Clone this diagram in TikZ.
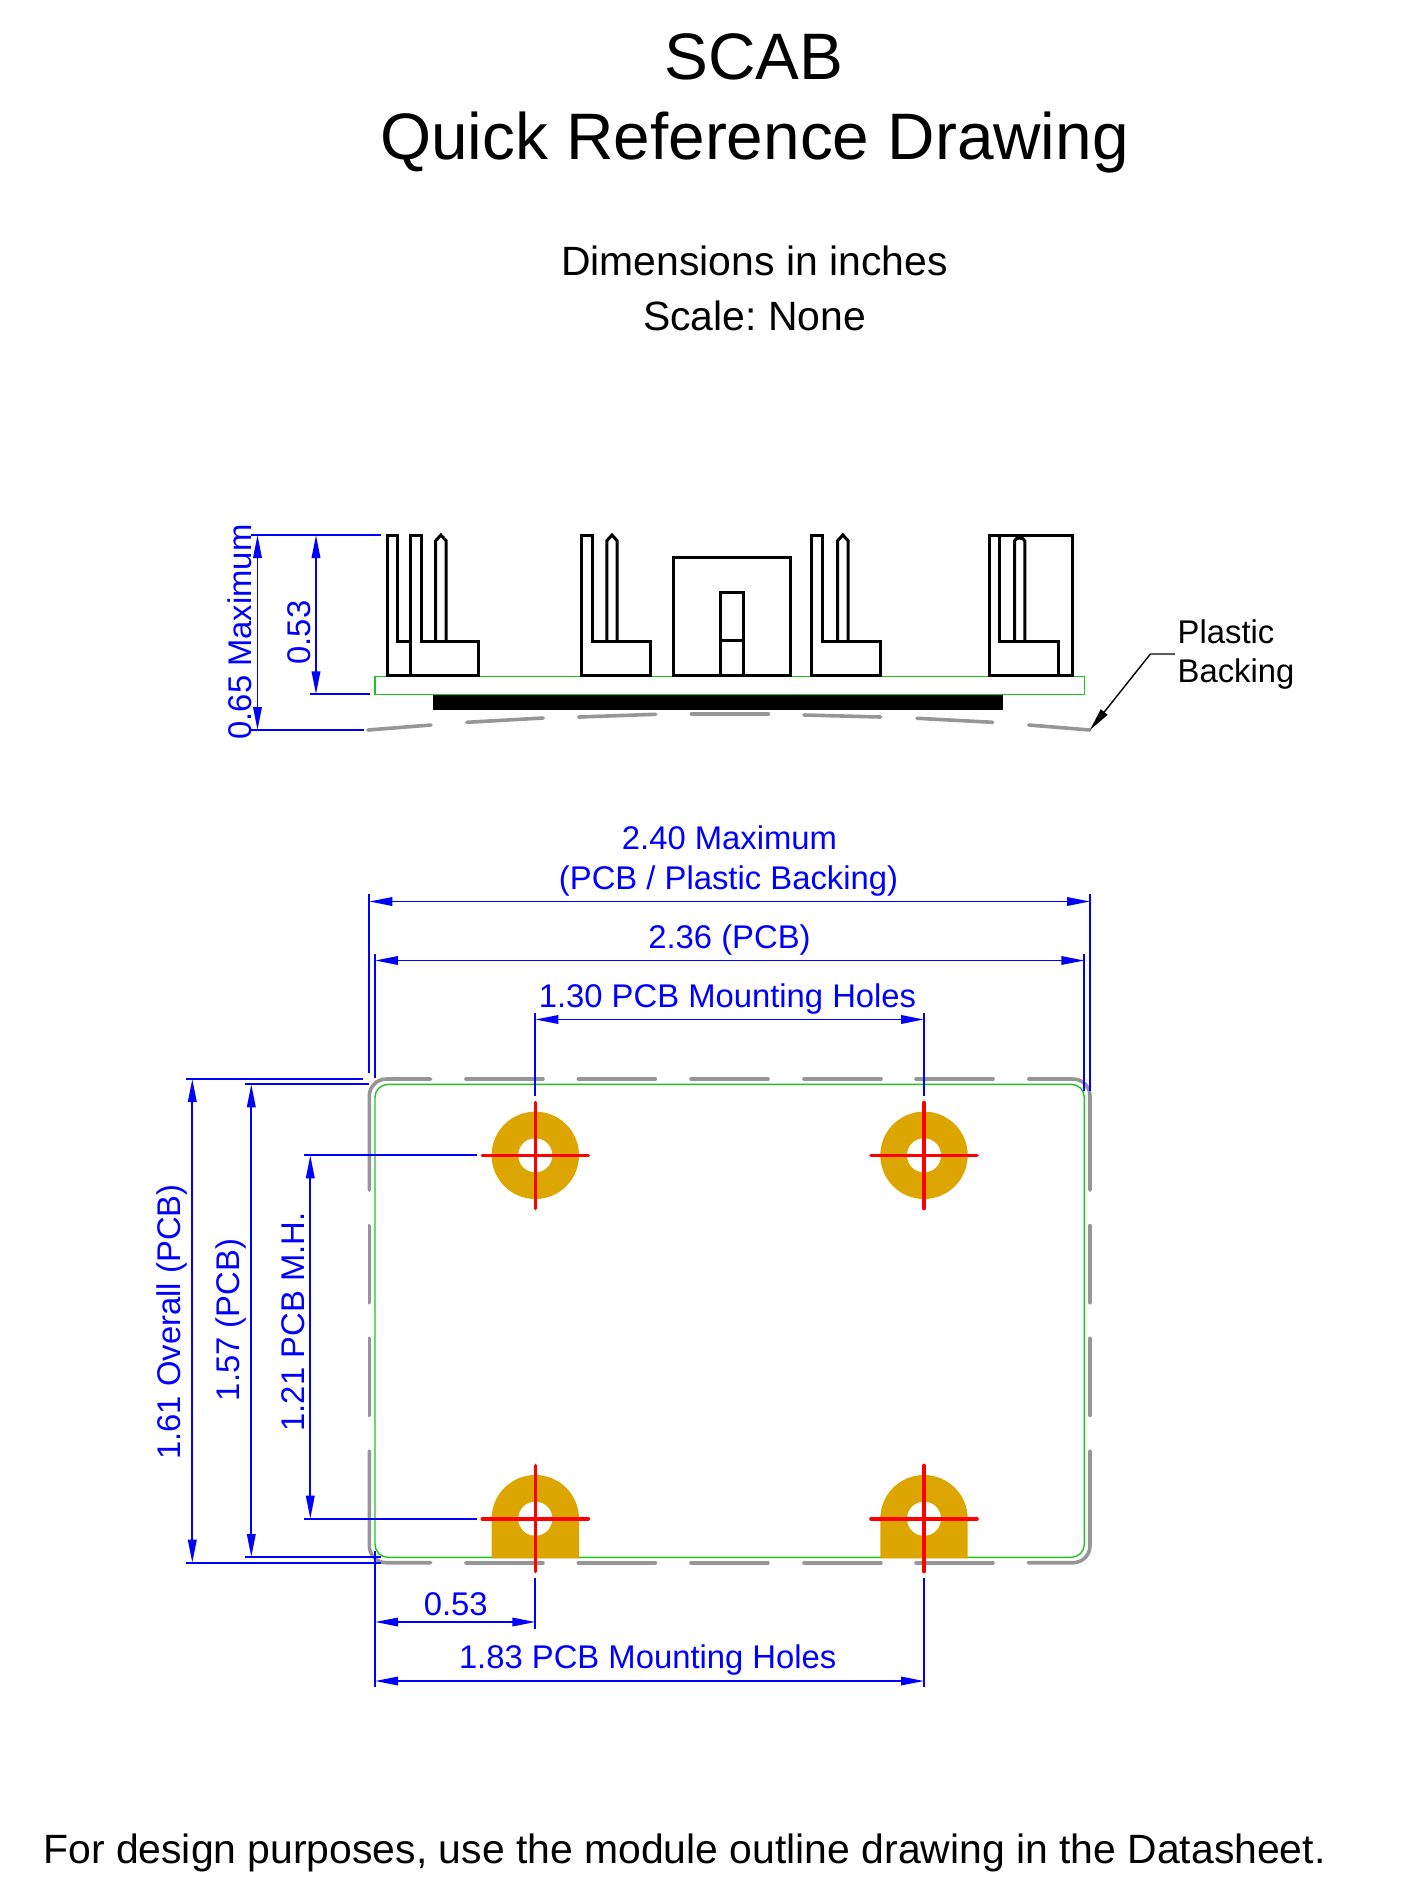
\documentclass[tikz,border=0pt]{standalone}
\usepackage{fontspec}
\setmainfont{Liberation Sans}
\usetikzlibrary{arrows.meta}
\definecolor{padgold}{RGB}{220,165,0}
\definecolor{pcbgreen}{RGB}{30,195,30}
\definecolor{backgray}{RGB}{150,150,150}
\tikzset{
  dimtip/.tip={Triangle[length=23pt,width=8.5pt]},
  dimline/.style={blue,line width=1.8pt,dimtip-dimtip},
  extline/.style={blue,line width=1.8pt},
  backing/.style={backgray,line width=3.6pt,line cap=round},
  pcb/.style={pcbgreen,line width=1.4pt},
  part/.style={black,line width=3pt,line join=miter},
  cross/.style={red,line width=3.6pt,line cap=round},
  dimtext/.style={blue,inner sep=0pt,anchor=base,font=\frenchspacing\fontsize{32.8}{32.8}\selectfont},
  sidetext/.style={dimtext,rotate=90},
  title/.style={inner sep=0pt,anchor=base,font=\fontsize{65.7}{65.7}\selectfont},
  info/.style={inner sep=0pt,anchor=base,font=\frenchspacing\fontsize{40.9}{40.9}\selectfont},
  note/.style={inner sep=0pt,anchor=base west,font=\fontsize{32.8}{32.8}\selectfont}
}
\begin{document}
\begin{tikzpicture}[x=1pt,y=-1pt]
  \useasboundingbox (0,0) rectangle (1412,1884);

  \node[title] (scab) at (754,80) {SCAB};
  \node[title] (quickref) at (754.5,159) {Quick Reference Drawing};
  \node[info] (dimsin) at (754.5,275) {Dimensions in inches};
  \node[info] (scale) at (754.5,330.5) {Scale: None};
  \node[info] (designnote) at (684.5,1863) {For design purposes, use the module outline drawing in the Datasheet.};

  % side view
  \draw[pcb] (375,676.7) rectangle (1084.5,694.3);
  \fill[black] (433.2,695.3) rectangle (1003,710.3);
  \foreach \xa/\ya/\xb/\yb in {367.9/730/431/725,466.8/722.3/543.2/718,578.6/717/655.7/714.3,
      691.4/714/768.4/714,804/715/880.5/717,916.9/718.3/992.7/722.3,1028.7/725/1089.9/730}
    \draw[backing] (\xa,\ya) -- (\xb,\yb);

  \foreach \xa/\xb/\xc/\xd/\xe in {410/421.4/435.7/446.1/478.9,581/592.1/606.8/617.1/650.4,811.7/822.4/837.7/848/880.6} {
    \draw[part] (\xa,675) -- (\xa,535) -- (\xb,535) -- (\xb,641.3) -- (\xe,641.3) -- (\xe,675) -- cycle;
    \draw[part] (\xc,641.3) -- (\xc,540.7) -- ({(\xc+\xd)/2},535) -- (\xd,540.7) -- (\xd,641.3);
  }
  \draw[part] (410,675) -- (387,675) -- (387,535) -- (397.5,535) -- (397.5,641.3) -- (410,641.3);
  \draw[part] (673.2,675) rectangle (790.6,557.7);
  \draw[part] (720.7,675) rectangle (743.2,592.3);
  \draw[part] (720.7,640.5) -- (743.2,640.5);
  \draw[part] (989.3,675) rectangle (1072,535);
  \draw[part] (999.6,535) -- (999.6,641.3) -- (1058,641.3) -- (1058,675);
  \draw[part] (1014.5,641.3) -- (1014.5,541) .. controls (1015,537) and (1024.3,537) .. (1024.8,541) -- (1024.8,641.3);

  \draw[extline] (251,535) -- (381.4,535);
  \draw[extline] (251,730) -- (363.6,730);
  \draw[extline] (310,694.3) -- (369.6,694.3);
  \draw[dimline] (257.5,535) -- (257.5,730);
  \draw[dimline] (316,535) -- (316,694.3);
  \node[sidetext] (maxside) at (251.8,632) {0.65 Maximum};
  \node[sidetext] (pinside) at (310,632.5) {0.53};

  \node[note] (plastic) at (1177.5,643.5) {Plastic};
  \node[note] (backingtxt) at (1177.5,682.5) {Backing};
  \coordinate (leader) at (1150.4,654);
  \coordinate (backend) at (1089.9,730);
  \draw[backgray!60!black,line width=1.4pt] (1174.5,654) -- (leader);
  \draw[black,line width=1.4pt,-{Triangle[length=23pt,width=8.5pt]}] (leader) -- (backend);

  % bottom view
  \draw[pcb,rounded corners=13pt] (375,1084.3) rectangle (1084.3,1557.3);

  \foreach \x in {535.3,924} {
    \fill[padgold] (\x,1155.3) circle (43.7);
    \fill[padgold] ({\x-43.7},1558.3) -- ({\x-43.7},1518.7) arc[start angle=180,end angle=360,radius=43.7] -- ({\x+43.7},1558.3) -- cycle;
    \fill[white] (\x,1155.3) circle (17);
    \fill[white] (\x,1518.7) circle (17);
  }

  \draw[backing,rounded corners=17pt] (430.7,1079) -- (369.3,1079) -- (369.3,1190);
  \draw[backing,rounded corners=17pt] (1028.3,1079) -- (1090,1079) -- (1090,1190);
  \draw[backing,rounded corners=17pt] (430.7,1562.7) -- (369.3,1562.7) -- (369.3,1451);
  \draw[backing,rounded corners=17pt] (1028.3,1562.7) -- (1090,1562.7) -- (1090,1451);
  \foreach \x in {466,578.3,691,804,916} {
    \draw[backing] (\x,1079) -- ({\x+77},1079);
    \draw[backing] (\x,1562.7) -- ({\x+77},1562.7);
  }
  \foreach \y in {1225.7,1338.3} {
    \draw[backing] (369.3,\y) -- (369.3,{\y+77});
    \draw[backing] (1090,\y) -- (1090,{\y+77});
  }

  \draw[extline] (185.7,1079) -- (363.3,1079);
  \draw[extline] (185.7,1562.7) -- (380.7,1562.7);
  \draw[extline] (244.7,1084.3) -- (369.3,1084.3);
  \draw[extline] (244.7,1557) -- (380.7,1557);
  \draw[extline] (304,1155.3) -- (476.7,1155.3);
  \draw[extline] (304,1518.7) -- (476.7,1518.7);
  \draw[dimline] (192.3,1079) -- (192.3,1562.7);
  \draw[dimline] (251.3,1084.3) -- (251.3,1557);
  \draw[dimline] (310.3,1155.3) -- (310.3,1518.7);
  \node[sidetext] (overall) at (180,1322) {1.61 Overall (PCB)};
  \node[sidetext] (pcbhigh) at (239,1320) {1.57 (PCB)};
  \node[sidetext] (mhhigh) at (304,1322) {1.21 PCB M.H.};

  \draw[extline] (369.3,894) -- (369.3,1072.7);
  \draw[extline] (1090,894) -- (1090,1090.7);
  \draw[extline] (375,954) -- (375,1078);
  \draw[extline] (1084.3,954) -- (1084.3,1090.7);
  \draw[extline] (535.3,1013) -- (535.3,1096);
  \draw[extline] (924,1013) -- (924,1096);
  \draw[dimline] (369.3,901.5) -- (1090,901.5);
  \draw[dimline] (375,960.5) -- (1084.3,960.5);
  \draw[dimline] (535.3,1019.5) -- (924,1019.5);
  \node[dimtext] (maxwide) at (729.5,849.6) {2.40 Maximum};
  \node[dimtext] (maxwideb) at (728.5,889) {(PCB / Plastic Backing)};
  \node[dimtext] (pcbwide) at (729.5,948) {2.36 (PCB)};
  \node[dimtext] (mhwide) at (727.5,1007) {1.30 PCB Mounting Holes};

  \draw[extline] (375,1551) -- (375,1687.3);
  \draw[extline] (535.3,1577.7) -- (535.3,1628.7);
  \draw[extline] (924,1577.7) -- (924,1687.3);
  \draw[dimline] (375,1622) -- (535.3,1622);
  \draw[dimline] (375,1681) -- (924,1681);
  \node[dimtext] (holeoff) at (455.8,1615.5) {0.53};
  \node[dimtext] (mhspan) at (647.7,1668) {1.83 PCB Mounting Holes};

  \foreach \x in {535.3,924} {
    \draw[cross] ({\x-53},1155.3) -- ({\x+53},1155.3);
    \draw[cross] (\x,1102.5) -- (\x,1208.5);
    \draw[cross] ({\x-53},1518.7) -- ({\x+53},1518.7);
    \draw[cross] (\x,1465.5) -- (\x,1571.5);
  }
\end{tikzpicture}
\end{document}
